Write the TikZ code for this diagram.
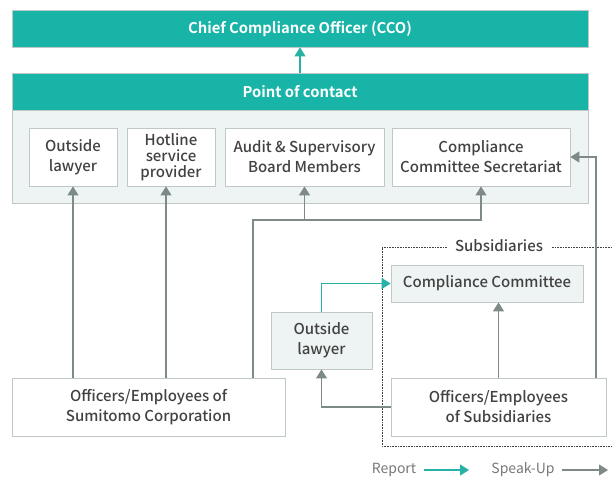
\documentclass[tikz,border=0pt]{standalone}
\usepackage{fontspec}
\setmainfont{Noto Sans CJK JP}[BoldFont={Noto Sans CJK JP Bold}]
\newfontfamily\medfont{Noto Sans CJK JP Medium}
\usetikzlibrary{arrows.meta}
\definecolor{tealhead}{RGB}{23,180,167}
\definecolor{tealarr}{RGB}{40,178,165}
\definecolor{grayarr}{RGB}{125,138,136}
\definecolor{boxline}{RGB}{192,200,198}
\definecolor{panel}{RGB}{238,244,243}
\definecolor{txt}{RGB}{66,66,66}
\definecolor{legtxt}{RGB}{120,120,120}
\tikzset{
  head/.style={draw=boxline, line width=0.8pt, fill=tealhead, text=white, font=\bfseries\fontsize{14.8}{18}\selectfont, minimum width=576pt, minimum height=37pt, inner sep=0pt},
  wbox/.style={draw=boxline, line width=0.8pt, fill=white, text=txt, font=\medfont\fontsize{15}{20}\selectfont, align=center, inner sep=0pt},
  lbox/.style={wbox, fill=panel},
  sp/.style={draw=grayarr, line width=1.1pt, -{Triangle[width=11pt,length=9pt]}},
  rp/.style={draw=tealarr, line width=1.1pt, -{Triangle[width=11pt,length=9pt]}},
}
\begin{document}
\begin{tikzpicture}[x=1pt,y=-1pt]
\useasboundingbox (0,0) rectangle (612,479);
% panel
\node[draw=boxline, line width=0.8pt, fill=panel, minimum width=576pt, minimum height=130pt, inner sep=0pt] (panel) at (300,138) {};
\node[head] (cco) at (300,28.5) {Chief Compliance Officer (CCO)};
\node[head] (poc) at (300,91.5) {Point of contact};
% inner boxes
\node[wbox, minimum width=88pt, minimum height=58pt] (ol1) at (73,157) {Outside\\lawyer};
\node[wbox, minimum width=88pt, minimum height=58pt, font=\medfont\fontsize{15}{16}\selectfont] (hl) at (171,157) {Hotline\\service\\provider};
\node[wbox, minimum width=159pt, minimum height=58pt] (aud) at (304.5,157) {Audit \& Supervisory\\Board Members};
\node[wbox, minimum width=178pt, minimum height=58pt] (sec) at (481,157) {Compliance\\Committee Secretariat};
% subsidiaries frame
\draw[draw=txt, line width=0.8pt, dash pattern=on 0.8pt off 0.8pt] (615,247) -- (382,247) -- (382,446) -- (615,446);
\node[fill=white, text=txt, font=\medfont\fontsize{15}{18}\selectfont, inner xsep=8pt, inner ysep=2pt] (subl) at (499,246) {Subsidiaries};
\node[lbox, minimum width=192pt, minimum height=37pt] (cc) at (487,283.5) {Compliance Committee};
\node[lbox, minimum width=101pt, minimum height=57pt] (ol2) at (321.5,340.5) {Outside\\lawyer};
% bottom boxes
\node[wbox, minimum width=273pt, minimum height=58pt] (sco) at (148.5,407) {Officers/Employees of\\Sumitomo Corporation};
\node[wbox, minimum width=215pt, minimum height=58pt] (subo) at (498.5,407) {Officers/Employees\\of Subsidiaries};
% connectors
\coordinate (hx) at (166,0);
\coordinate (j) at (253,220);
\coordinate (rx) at (596,0);
\draw[rp] (poc.north) -- (cco.south);
\draw[sp] (ol1.south |- sco.north) -- (ol1.south);
\draw[sp] (sco.north -| hx) -- (hl.south -| hx);
\draw[sp] (sco.north -| j) |- (sec.south |- j) -- (sec.south);
\draw[sp] (aud.south |- j) -- (aud.south);
\draw[sp] (subo.north -| rx) |- (sec.east);
\draw[sp] (subo.north) -- (subo.north |- cc.south);
\draw[sp] (subo.west) -| (ol2.south);
\draw[rp] (ol2.north) |- (cc.west);
% legend
\node[text=legtxt, font=\fontsize{14}{16}\selectfont, inner sep=0pt] (rep) at (394,470) {Report};
\coordinate (repe) at (469,470);
\draw[rp] ([xshift=8pt]rep.east) -- (repe);
\node[text=legtxt, font=\fontsize{14}{16}\selectfont, inner sep=0pt] (spk) at (523,470) {Speak-Up};
\coordinate (spke) at (608,470);
\draw[sp] ([xshift=7pt]spk.east) -- (spke);
\end{tikzpicture}
\end{document}
